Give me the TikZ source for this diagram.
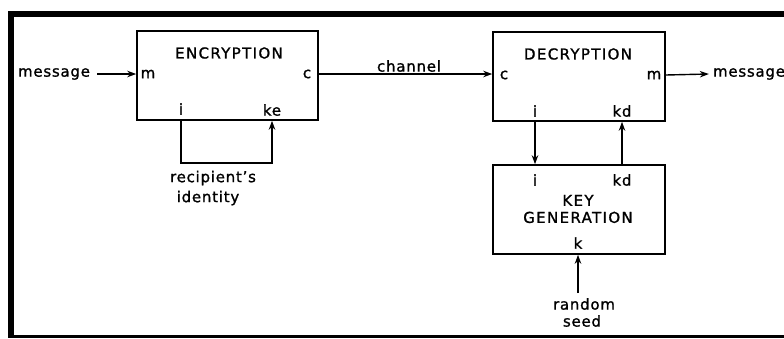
\documentclass[tikz,border=0pt]{standalone}
\usepackage{fontspec}
\setmainfont{DejaVu Sans}
\newfontfamily\lcfont{DejaVu Sans}[LetterSpace=5,FakeBold=1.2]
\newfontfamily\ucfont{DejaVu Sans}[LetterSpace=9,FakeBold=1.2]
\usetikzlibrary{arrows.meta}
\begin{document}
\begin{tikzpicture}[x=1pt,y=-1pt,
  box/.style={draw, line width=1.6pt, minimum width=#1, minimum height=89pt, inner sep=0pt},
  lbl/.style={font=\lcfont\fontsize{15}{17}\selectfont, inner sep=1pt},
  ttl/.style={font=\ucfont\fontsize{15}{17}\selectfont, inner sep=1pt, align=center},
  arr/.style={line width=1.4pt, -{Stealth[length=9pt,width=6.5pt]}},
  ln/.style={line width=1.4pt}]
\useasboundingbox (0,0) rectangle (784,338);
% frame
\fill (8,11) rectangle (784,17);
\fill (8,11) rectangle (14,338);
\fill (8,335) rectangle (784,338);
% boxes
\node[box=181pt] (enc) at (227.5,75.5) {};
\node[box=172pt] (dec) at (579,76.5) {};
\node[box=172pt] (key) at (579,209.5) {};
% titles
\node[ttl] (enct) at (229,53) {ENCRYPTION};
\node[ttl] (dect) at (578,54) {DECRYPTION};
\node[ttl] (keyt) at (578,209) {KEY\\[0pt]GENERATION};
% ports
\node[lbl] (em) at (148,74) {m};
\node[lbl] (ec) at (307,74) {c};
\node[lbl] (ei) at (181,109) {i};
\node[lbl] (eke) at (272,110) {ke};
\node[lbl] (dc) at (504,75) {c};
\node[lbl] (dm) at (654,75) {m};
\node[lbl] (di) at (535,111) {i};
\node[lbl] (dkd) at (622,111) {kd};
\node[lbl] (ki) at (535,180) {i};
\node[lbl] (kkd) at (622,180) {kd};
\node[lbl] (kk) at (578,243) {k};
% external labels
\node[lbl] (msgin) at (54,74) {message};
\node[lbl] (msgout) at (749,74) {message};
\node[lbl, anchor=south] (chan) at (409,73) {channel};
\node[lbl] (recip) at (213,178) {recipient’s};
\node[lbl] (ident) at (208,198) {identity};
\node[lbl] (rand) at (584,304) {random};
\node[lbl] (seed) at (582,321) {seed};
\coordinate (loop) at (227,163);
\coordinate (seedtop) at (578,293);
% connectors
\draw[arr] ([xshift=6pt]msgin.east) -- (enc.west |- msgin);
\draw[arr] (enc.east |- ec) -- (dec.west |- ec);
\draw[arr] (dec.east |- dm) -- ([xshift=-3pt]msgout.west);
\draw[arr] (ei |- enc.south) -- (ei |- loop) -- (eke |- loop) -- (eke |- enc.south);
\draw[arr] (di |- dec.south) -- (di |- key.north);
\draw[arr] (dkd |- key.north) -- (dkd |- dec.south);
\draw[arr] (kk |- seedtop) -- (kk |- key.south);
\end{tikzpicture}
\end{document}
